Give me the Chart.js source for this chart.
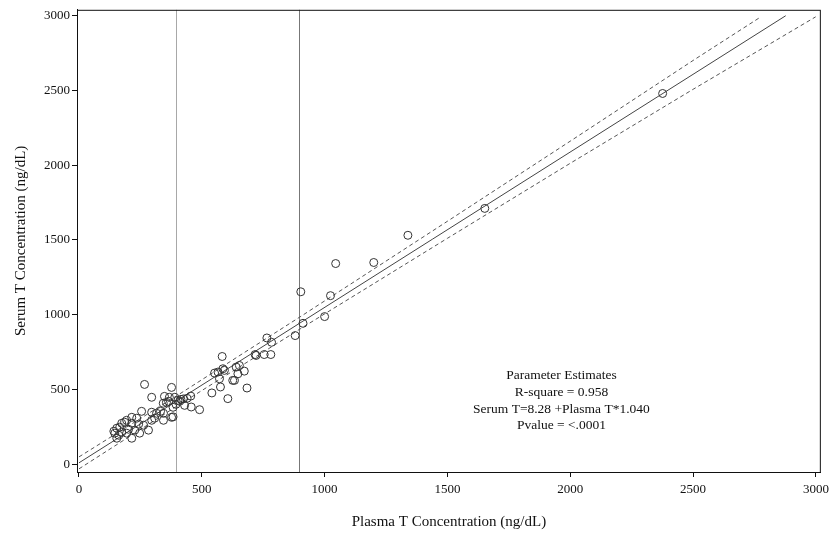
<!DOCTYPE html>
<html>
<head>
<meta charset="utf-8">
<script src="https://cdn.jsdelivr.net/npm/chart.js@4"></script>
<style>
  body { margin: 0; background: #fff; }
  canvas { display: block; }
</style>
</head>
<body>
<canvas id="myChart" width="834" height="534"></canvas>
<script>
var plasmaT = [2376, 1652, 1339, 1200, 1045, 903, 1024, 1000, 912, 880,
    765, 784, 717, 754, 781, 583, 721, 653, 640, 673,
    647, 633, 552, 566, 586, 592, 572, 576, 541, 606,
    684, 626, 430, 457, 491, 383, 390, 403, 415, 425,
    440, 455, 267, 377, 296, 348, 368, 343, 356, 383,
    255, 296, 316, 332, 344, 377, 215, 235, 194, 296,
    308, 344, 174, 186, 215, 243, 263, 154, 166, 202,
    227, 283, 142, 146, 162, 174, 194, 247, 215, 154,
    365, 395, 410];
var serumT = [2480, 1711, 1531, 1349, 1342, 1153, 1127, 987, 942, 860,
    844, 815, 733, 733, 733, 720, 727, 660, 649, 622,
    604, 560, 609, 616, 638, 627, 571, 516, 476, 438,
    509, 560, 393, 382, 364, 316, 447, 427, 433, 436,
    440, 455, 533, 513, 447, 453, 447, 407, 413, 380,
    353, 347, 340, 353, 340, 313, 313, 307, 293, 293,
    307, 293, 273, 280, 273, 267, 260, 240, 247, 233,
    227, 227, 220, 207, 193, 213, 207, 207, 173, 173,
    420, 400, 420];

// fitted line and confidence limits
var intercept = 8.28;
var slope = 1.040;
var fitRange = [0, 2877];
var upperX = [0, 400, 900, 1500, 2000, 2500, 2776];
var upperY = [48, 459, 985, 1625, 2161, 2701, 2993];
var lowerX = [0, 400, 900, 1500, 2000, 2500, 2999];
var lowerY = [-32, 389, 904, 1511, 2013, 2508, 2993];

var refLines = [400, 900];
var refColors = ['#a8a8a8', '#777'];
var xTicks = [0, 500, 1000, 1500, 2000, 2500, 3000];
var yTicks = [0, 500, 1000, 1500, 2000, 2500, 3000];
var statsText = ['Parameter Estimates', 'R-square = 0.958',
    'Serum T=8.28 +Plasma T*1.040', 'Pvalue = <.0001'];

var serif = '"Liberation Serif", "DejaVu Serif", serif';

function pairs(xs, ys) {
    return xs.map(function (x, i) { return { x: x, y: ys[i] }; });
}

var fitData = fitRange.map(function (x) {
    return { x: x, y: intercept + slope * x };
});

// reference lines, frame and estimates box
var extras = {
    id: 'extras',
    beforeDatasetsDraw: function (chart) {
        var ctx = chart.ctx, a = chart.chartArea, xs = chart.scales.x;
        ctx.save();
        ctx.lineWidth = 1;
        refLines.forEach(function (v, i) {
            var px = Math.round(xs.getPixelForValue(v)) - 0.5;
            ctx.strokeStyle = refColors[i];
            ctx.beginPath();
            ctx.moveTo(px, a.top);
            ctx.lineTo(px, a.bottom);
            ctx.stroke();
        });
        ctx.restore();
    },
    afterDraw: function (chart) {
        var ctx = chart.ctx, a = chart.chartArea;
        var xs = chart.scales.x, ys = chart.scales.y;
        ctx.save();
        ctx.strokeStyle = '#111';
        ctx.lineWidth = 1;
        ctx.strokeRect(a.left + 0.5, a.top + 0.5, a.right - a.left - 1, a.bottom - a.top);
        ctx.fillStyle = '#111';
        ctx.font = '13.5px ' + serif;
        ctx.textAlign = 'center';
        ctx.textBaseline = 'middle';
        var cx = xs.getPixelForValue(1964);
        var cy = ys.getPixelForValue(593);
        statsText.forEach(function (t, i) {
            ctx.fillText(t, cx, cy + i * 16.8);
        });
        ctx.restore();
    }
};

function plainTick(v) { return String(v); }

var ctx = document.getElementById('myChart').getContext('2d');
new Chart(ctx, {
    type: 'scatter',
    data: {
        datasets: [{
            label: 'Serum T',
            data: pairs(plasmaT, serumT),
            pointStyle: 'circle',
            pointRadius: 4,
            borderColor: '#333',
            backgroundColor: 'rgba(0,0,0,0)',
            borderWidth: 1
        }, {
            label: 'Fit',
            data: fitData,
            showLine: true,
            pointRadius: 0,
            borderColor: '#444',
            borderWidth: 1
        }, {
            label: 'Upper',
            data: pairs(upperX, upperY),
            showLine: true,
            pointRadius: 0,
            borderColor: '#555',
            borderWidth: 1,
            borderDash: [4, 3]
        }, {
            label: 'Lower',
            data: pairs(lowerX, lowerY),
            showLine: true,
            pointRadius: 0,
            borderColor: '#555',
            borderWidth: 1,
            borderDash: [4, 3]
        }]
    },
    options: {
        responsive: false,
        animation: false,
        devicePixelRatio: 1,
        layout: { padding: { top: 8, right: 11, left: 0, bottom: 0 } },
        plugins: {
            legend: { display: false },
            tooltip: { enabled: false }
        },
        scales: {
            x: {
                type: 'linear',
                min: -8,
                max: 3020,
                afterFit: function (s) { s.height = 62; },
                afterBuildTicks: function (s) {
                    s.ticks = xTicks.map(function (v) { return { value: v }; });
                },
                grid: { drawOnChartArea: false, tickLength: 5, color: '#111' },
                border: { color: '#111', width: 1 },
                ticks: { color: '#111', padding: 5, font: { family: serif, size: 13 }, callback: plainTick },
                title: {
                    display: true,
                    text: 'Plasma T Concentration (ng/dL)',
                    color: '#111',
                    font: { family: serif, size: 15 },
                    padding: { top: 4, bottom: 3 }
                }
            },
            y: {
                type: 'linear',
                min: -53,
                max: 3040,
                afterFit: function (s) { s.width = 77; },
                afterBuildTicks: function (s) {
                    s.ticks = yTicks.map(function (v) { return { value: v }; });
                },
                grid: { drawOnChartArea: false, tickLength: 5, color: '#111' },
                border: { color: '#111', width: 1 },
                ticks: { color: '#111', padding: 2, font: { family: serif, size: 13 }, callback: plainTick },
                title: {
                    display: true,
                    text: 'Serum T Concentration (ng/dL)',
                    color: '#111',
                    font: { family: serif, size: 15 },
                    padding: { top: 12, bottom: 4 }
                }
            }
        }
    },
    plugins: [extras]
});
</script>
</body>
</html>
